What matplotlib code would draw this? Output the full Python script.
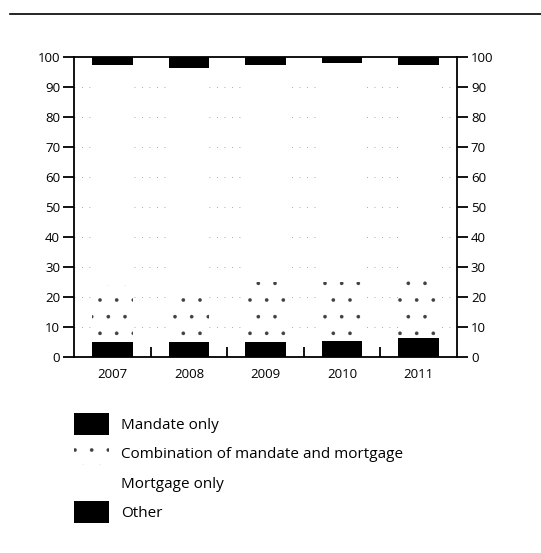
import matplotlib.pyplot as plt
import matplotlib.patches as mpatches
from matplotlib.lines import Line2D
import numpy as np

years = ['2007', '2008', '2009', '2010', '2011']
mandate_only = [5.0, 5.0, 5.0, 5.5, 6.5]
combination = [19.0, 16.0, 20.0, 19.5, 20.5]
other = [2.5, 3.5, 2.5, 2.0, 2.5]
mortgage_only = [100 - m - c - o for m, c, o in zip(mandate_only, combination, other)]
y_ticks = [0, 10, 20, 30, 40, 50, 60, 70, 80, 90, 100]

plt.rcParams['font.family'] = ['Open Sans', 'DejaVu Sans']
plt.rcParams['hatch.linewidth'] = 0.2

fig = plt.figure(figsize=(5.41, 5.53), dpi=100)
ax = fig.add_axes([74 / 541, 196 / 553, 383 / 541, 300 / 553])

x = np.arange(len(years))
w = 0.53
bottom = np.zeros(len(years))
segments = [
    ('Mandate only', mandate_only, dict(color='black')),
    ('Combination of mandate and mortgage', combination,
     dict(facecolor='white', edgecolor='0.25', hatch='.', linewidth=0)),
    ('Mortgage only', mortgage_only, dict(facecolor='white', linewidth=0)),
    ('Other', other, dict(color='black')),
]
for name, vals, style in segments:
    ax.bar(x, vals, w, bottom=bottom, label=name, zorder=2, **style)
    bottom += np.array(vals)

# faint dotted grid (barely survives in the scan)
for yv in y_ticks[1:-1]:
    ax.axhline(yv, color='0.55', lw=0.6, ls=(0, (1, 8)), zorder=1)

ax.set_xlim(-0.5, len(years) - 0.5)
ax.set_ylim(0, 100)
ax.set_yticks(y_ticks)
ax.set_xticks(x)
ax.set_xticklabels(years, fontsize=9.5)
ax.set_xticks(x[:-1] + 0.5, minor=True)
ax.tick_params(axis='x', which='major', length=0, pad=8)
ax.tick_params(axis='x', which='minor', direction='in', length=7, width=1.3, top=False)
ax.tick_params(axis='y', which='major', direction='out', length=8, width=1.3,
               labelsize=9.5, right=True, labelright=True, pad=2)
for s in ax.spines.values():
    s.set_linewidth(1.3)

handles = [
    mpatches.Patch(facecolor='black', label='Mandate only'),
    mpatches.Patch(facecolor='white', edgecolor='0.25', hatch='.', linewidth=0,
                   label='Combination of mandate and mortgage'),
    mpatches.Patch(facecolor='white', linewidth=0, label='Mortgage only'),
    mpatches.Patch(facecolor='black', label='Other'),
]
fig.legend(handles=handles, loc='upper left', bbox_to_anchor=(68 / 541, 1 - 407 / 553),
           frameon=False, fontsize=11, handlelength=2.3, handleheight=1.86,
           labelspacing=0.46, handletextpad=0.8, borderaxespad=0)

# header rule at the top of the page
fig.add_artist(Line2D([10 / 541, 1.0], [1 - 14 / 553, 1 - 14 / 553],
                      color='black', lw=1.2))

fig.savefig('out.png', dpi=100)
